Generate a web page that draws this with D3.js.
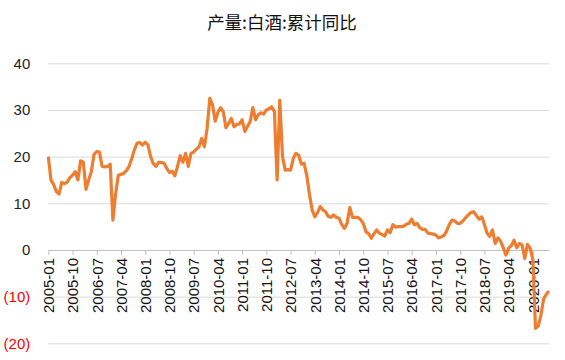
<!DOCTYPE html>
<html>
<head>
<meta charset="utf-8">
<script src="https://cdn.jsdelivr.net/npm/d3@7"></script>
<style>
  body { margin: 0; background: #fff; }
  svg { font-family: "Liberation Sans", Arial, sans-serif; }
</style>
</head>
<body>
<svg id="chart" width="565" height="360"></svg>
<script>
const title = "产量:白酒:累计同比";

// monthly, 2005-01 .. 2020-07
const firstMonth = "2005-01";
const values = [
  20, 15, 14, 12.5, 12, 14.5, 14.2, 14.5, 15.5, 16, 16.8, 15,
  19.1, 18.8, 13, 15, 16.8, 20.5, 21.1, 21, 17.9, 17.8, 17.9, 18.4,
  6.4, 12, 16, 16.2, 16.4, 17, 17.9, 19.6, 21.5, 22.9, 23, 22.5,
  23.1, 22.5, 20, 18.5, 17.9, 18.8, 18.7, 18.6, 17.5, 16.6, 16.9, 15.9,
  17.9, 20.2, 18.8, 20.7, 17.9, 20.7, 21, 21.6, 22.1, 23.9, 22.1, 26.1,
  32.5, 31.1, 27.6, 29.5, 30.5, 29.6, 26.2, 27.1, 28.2, 26.4, 26.9, 27,
  27.9, 25.4, 26.5, 27.5, 30.5, 27.9, 29, 29.4, 29.1, 30, 30.3, 30.7,
  29.6, 15, 32.1, 20, 17.1, 17.2, 17.1, 19.6, 20.7, 20.3, 18.4, 18.6,
  16, 12, 8.6, 7.1, 8, 9.3, 8.6, 8.2, 7.2, 7, 7.5, 7,
  6.8, 5.5, 4.6, 5.7, 9.1, 7, 7, 7, 6.5, 5.7, 3.9, 3.5,
  2.5, 3.5, 4.3, 3.6, 3.3, 3, 4.3, 3.7, 5.4, 4.9, 5, 5,
  5.1, 5.5, 5.7, 6.6, 5.4, 5.7, 4.8, 4.4, 4.4, 3.6, 3.5, 3.4,
  3.2, 2.6, 2.8, 3.1, 4.1, 5.5, 6.4, 6.2, 5.7, 5.7, 6.2, 6.9,
  7.5, 8, 8.2, 7.4, 6.6, 7.1, 5.5, 3.6, 2.9, 4.3, 1.4, 2.6,
  1.9, 0.5, -1.1, 0.4, 0.9, 2.1, 0.5, 1.4, 1.1, -1.8, 1.2, 0.4,
  -2, -16.8, -16.3, -14, -10.5, -9.5, -8.8
];

const yTicks = [40, 30, 20, 10, 0, -10, -20];
const xTickLabels = ["2005-01", "2005-10", "2006-07", "2007-04", "2008-01", "2008-10", "2009-07",
  "2010-04", "2011-01", "2011-10", "2012-07", "2013-04", "2014-01", "2014-10", "2015-07",
  "2016-04", "2017-01", "2017-10", "2018-07", "2019-04", "2020-01"];

const parse = d3.timeParse("%Y-%m"), fmt = d3.timeFormat("%Y-%m");
const start = parse(firstMonth);
const months = values.map((v, i) => fmt(d3.timeMonth.offset(start, i)));
const data = months.map((m, i) => ({ month: m, value: values[i] }));

const svg = d3.select("#chart");
const plot = { left: 48.3, right: 549, top: 63.3, bottom: 343.3 };

const x = d3.scalePoint().domain(months).range([plot.left, plot.right]);
const y = d3.scaleLinear().domain([-20, 40]).range([plot.bottom, plot.top]);

// title
svg.append("text")
  .attr("x", 282).attr("y", 29)
  .attr("text-anchor", "middle")
  .style("font-family", "'Noto Sans CJK SC', sans-serif")
  .style("font-size", "17.5px")
  .attr("fill", "#111")
  .text(title);

// gridlines + y labels
svg.append("g")
  .attr("transform", `translate(${plot.left},0)`)
  .call(d3.axisLeft(y).tickValues(yTicks).tickSize(-(plot.right - plot.left)).tickPadding(18)
    .tickFormat(d => d < 0 ? `(${-d})` : d))
  .call(g => g.select(".domain").remove())
  .call(g => g.selectAll(".tick line").attr("stroke", "#d9d9d9"))
  .call(g => g.selectAll(".tick text")
    .style("font-size", "15px")
    .attr("fill", d => d < 0 ? "#ff0000" : "#222"));

// x axis on zero line
const xAxis = svg.append("g")
  .attr("transform", `translate(0,${y(0)})`)
  .call(d3.axisBottom(x).tickValues(xTickLabels).tickSize(5).tickSizeOuter(0).tickPadding(8));
xAxis.select(".domain").attr("stroke", "#bfbfbf");
xAxis.selectAll(".tick line").attr("stroke", "#bfbfbf");
xAxis.selectAll(".tick text")
  .style("font-size", "15px")
  .attr("fill", "#111")
  .attr("text-anchor", "end")
  .attr("transform", "rotate(-90)")
  .attr("x", -8).attr("y", 0).attr("dy", "0.35em");

// line
svg.append("path")
  .datum(data)
  .attr("fill", "none")
  .attr("stroke", "#ED7D31")
  .attr("stroke-width", 3.2)
  .attr("stroke-linejoin", "round")
  .attr("d", d3.line().x(d => x(d.month)).y(d => y(d.value)));
</script>
</body>
</html>
